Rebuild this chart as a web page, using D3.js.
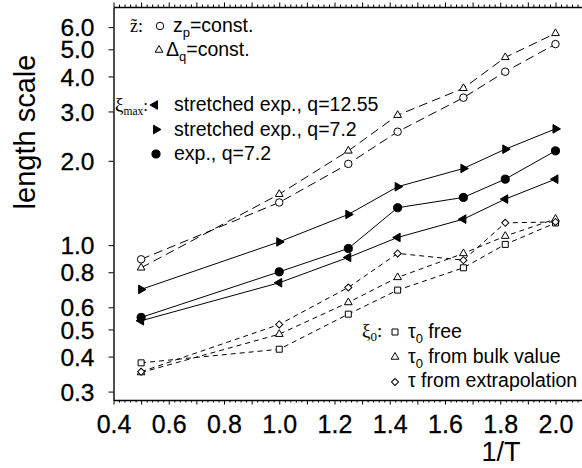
<!DOCTYPE html>
<html><head><meta charset="utf-8">
<script src="https://cdn.jsdelivr.net/npm/d3@7/dist/d3.min.js"></script>
<style>
html,body{margin:0;padding:0;background:#fff;}
svg{display:block;font-family:"Liberation Sans",Arial,sans-serif;}
</style></head>
<body>
<svg id="chart" width="582" height="468"></svg>
<script>
// ---- data ----
const invT = [0.5, 1.0, 1.25, 1.4286, 1.6667, 1.8182, 2.0];
const zpConst      = [0.89, 1.42, 1.95, 2.54, 3.36, 4.16, 5.22];
const dqConst      = [0.83, 1.52, 2.17, 2.91, 3.63, 4.68, 5.70];
const strQ1255     = [0.537, 0.734, 0.904, 1.065, 1.238, 1.46, 1.72];
const strQ72       = [0.695, 1.027, 1.287, 1.616, 1.878, 2.20, 2.60];
const expQ72       = [0.552, 0.803, 0.973, 1.36, 1.48, 1.72, 2.17];
const tau0Free     = [0.380, 0.425, 0.567, 0.691, 0.830, 1.006, 1.20];
const tau0Bulk     = [0.351, 0.481, 0.624, 0.767, 0.934, 1.077, 1.24];
const tauExtrap    = [0.353, 0.521, 0.706, 0.934, 0.884, 1.201, 1.21];
const yTickValues  = [0.3, 0.4, 0.5, 0.6, 0.8, 1.0, 2.0, 3.0, 4.0, 5.0, 6.0];
const xLabelValues = [0.4, 0.6, 0.8, 1.0, 1.2, 1.4, 1.6, 1.8, 2.0];
const xDomain = [0.4, 2.1];
const yDomain = [0.28, 7.08];

const svg = d3.select("#chart");
const L = 113.5, R = 583.1, T = 7, B = 400;
const x = d3.scaleLinear().domain(xDomain).range([L, R]);
const y = d3.scaleLog().domain(yDomain).range([B, T]);

// ---- axes ----
const minorX = d3.range(0, 86).map(i => +(0.4 + i * 0.02).toFixed(2)).filter(v => v <= 2.1);
const isMajor = v => Math.abs(Math.round(v * 10) - v * 10) < 1e-6;

function xAxisGroup(axisFn, yPos) {
  const g = svg.append("g").attr("transform", `translate(0,${yPos})`)
    .call(axisFn(x).tickValues(minorX).tickSize(2).tickSizeOuter(0).tickFormat(""));
  g.selectAll(".tick line").attr("y2", function(d){ const s = isMajor(d) ? 4.5 : 2.5; return axisFn === d3.axisTop ? -s : s; });
  g.select(".domain").attr("stroke-width", 1.4);
  g.selectAll("line").attr("stroke", "#000").attr("stroke-width", 1);
  return g;
}
xAxisGroup(d3.axisBottom, B);
xAxisGroup(d3.axisTop, T);

// x labels
const xl = svg.append("g").attr("transform", `translate(0,${B})`)
  .call(d3.axisBottom(x).tickValues(xLabelValues).tickSize(0).tickFormat(d3.format(".1f")));
xl.select(".domain").remove();
xl.selectAll("text").attr("font-size", 25).attr("font-family", "Liberation Sans, Arial, sans-serif")
  .attr("fill", "#000").attr("stroke", "#000").attr("stroke-width", 0.3).attr("dy", 0).attr("y", 33);

// y axis
const ya = svg.append("g").attr("transform", `translate(${L},0)`)
  .call(d3.axisLeft(y).tickValues(yTickValues).tickSize(5).tickSizeOuter(0).tickFormat(d3.format(".1f")));
ya.select(".domain").attr("stroke-width", 1.4);
ya.selectAll("text").attr("font-size", 24.5).attr("font-family", "Liberation Sans, Arial, sans-serif")
  .attr("fill", "#000").attr("stroke", "#000").attr("stroke-width", 0.3).attr("x", -19).attr("dy", "0.35em");

// axis titles
svg.append("text").attr("x", 501).attr("y", 461).attr("text-anchor", "middle")
  .attr("font-size", 27).text("1/T");
svg.append("text").attr("transform", "translate(35,132) rotate(-90)").attr("text-anchor", "middle")
  .attr("font-size", 29).text("length scale");

// ---- series ----
const series = [
  {v: zpConst,   dash: "9,5", shape: "circle",  fill: "#fff"},
  {v: dqConst,   dash: "9,5", shape: "triUp",   fill: "#fff"},
  {v: strQ1255,  dash: null,  shape: "triLeft", fill: "#000"},
  {v: strQ72,    dash: null,  shape: "triRight",fill: "#000"},
  {v: expQ72,    dash: null,  shape: "dot",     fill: "#000"},
  {v: tau0Free,  dash: "5,4", shape: "square",  fill: "#fff"},
  {v: tau0Bulk,  dash: "5,4", shape: "triUp",   fill: "#fff"},
  {v: tauExtrap, dash: "5,4", shape: "diamond", fill: "#fff"}
];

function symPath(shape) {
  switch (shape) {
    case "circle":  return {d: d3.symbol(d3.symbolCircle, 44)(), rot: 0};
    case "dot":     return {d: d3.symbol(d3.symbolCircle, 52)(), rot: 0};
    case "triUp":   return {d: d3.symbol(d3.symbolTriangle, 26)(), rot: 0};
    case "triLeft": return {d: d3.symbol(d3.symbolTriangle, 32)(), rot: -90};
    case "triRight":return {d: d3.symbol(d3.symbolTriangle, 32)(), rot: 90};
    case "square":  return {d: d3.symbol(d3.symbolSquare, 36)(), rot: 0};
    case "diamond": return {d: d3.symbol(d3.symbolSquare, 25)(), rot: 45};
  }
}
function drawMarker(g, shape, fill, cx, cy) {
  const s = symPath(shape);
  g.append("path").attr("d", s.d)
    .attr("transform", `translate(${cx},${cy}) rotate(${s.rot})`)
    .attr("fill", fill).attr("stroke", "#000").attr("stroke-width", 1);
}

const line = d3.line().x(d => x(d[0])).y(d => y(d[1]));
const plot = svg.append("g");
series.forEach(s => {
  const pts = invT.map((t, i) => [t, s.v[i]]);
  plot.append("path").attr("d", line(pts)).attr("fill", "none").attr("stroke", "#000")
    .attr("stroke-width", 1).attr("stroke-dasharray", s.dash);
});
series.forEach(s => {
  invT.forEach((t, i) => drawMarker(plot, s.shape, s.fill, x(t), y(s.v[i])));
});

// ---- legends ----
const lg = svg.append("g");
const serif = "Liberation Serif, Times New Roman, serif";
function sub(textSel, main, subs, rest, subSize) {
  textSel.append("tspan").text(main);
  textSel.append("tspan").attr("font-size", subSize).attr("dy", 5).text(subs);
  if (rest) textSel.append("tspan").attr("dy", -5).text(rest);
}
// z~ legend
lg.append("text").attr("x", 130).attr("y", 32).attr("font-family", serif).attr("font-size", 18).text("z\u0303:");
drawMarker(lg, "circle", "#fff", 160, 26);
sub(lg.append("text").attr("x", 173).attr("y", 32).attr("font-size", 19.5), "z", "p", "=const.", 13);
drawMarker(lg, "triUp", "#fff", 159, 50);
sub(lg.append("text").attr("x", 166).attr("y", 56).attr("font-size", 19.5), "\u0394", "q", "=const.", 13);

// xi_max legend
const xm = lg.append("text").attr("x", 115).attr("y", 111).attr("font-family", serif).attr("font-size", 19);
xm.append("tspan").text("\u03BE");
xm.append("tspan").attr("font-size", 11.5).attr("dy", 4).text("max");
xm.append("tspan").attr("dy", -4).attr("font-size", 17).text(":");
const ximaxItems = [
  {shape: "triLeft", label: "stretched exp., q=12.55", cy: 105, by: 111},
  {shape: "triRight", label: "stretched exp., q=7.2", cy: 129.5, by: 135.5},
  {shape: "dot", label: "exp., q=7.2", cy: 154, by: 160}
];
ximaxItems.forEach(it => {
  drawMarker(lg, it.shape, "#000", it.shape === "triLeft" ? 155 : 156, it.cy);
  lg.append("text").attr("x", 174).attr("y", it.by).attr("font-size", 19.5).text(it.label);
});

// xi_0 legend
const x0 = lg.append("text").attr("x", 362).attr("y", 337).attr("font-family", serif).attr("font-size", 19);
x0.append("tspan").text("\u03BE");
x0.append("tspan").attr("font-size", 13).attr("dy", 4).text("0");
x0.append("tspan").attr("dy", -4).text(":");
const xi0Items = [
  {shape: "square", main: "\u03C4", s: "0", rest: " free", cy: 332, by: 338},
  {shape: "triUp", main: "\u03C4", s: "0", rest: " from bulk value", cy: 357, by: 362.5},
  {shape: "diamond", main: "\u03C4 from extrapolation", s: "", rest: "", cy: 382, by: 387}
];
xi0Items.forEach(it => {
  drawMarker(lg, it.shape, "#fff", 395, it.cy);
  const t = lg.append("text").attr("x", 408).attr("y", it.by).attr("font-size", 19.5);
  if (it.s) sub(t, it.main, it.s, it.rest, 13); else t.text(it.main);
});
</script>
</body></html>
